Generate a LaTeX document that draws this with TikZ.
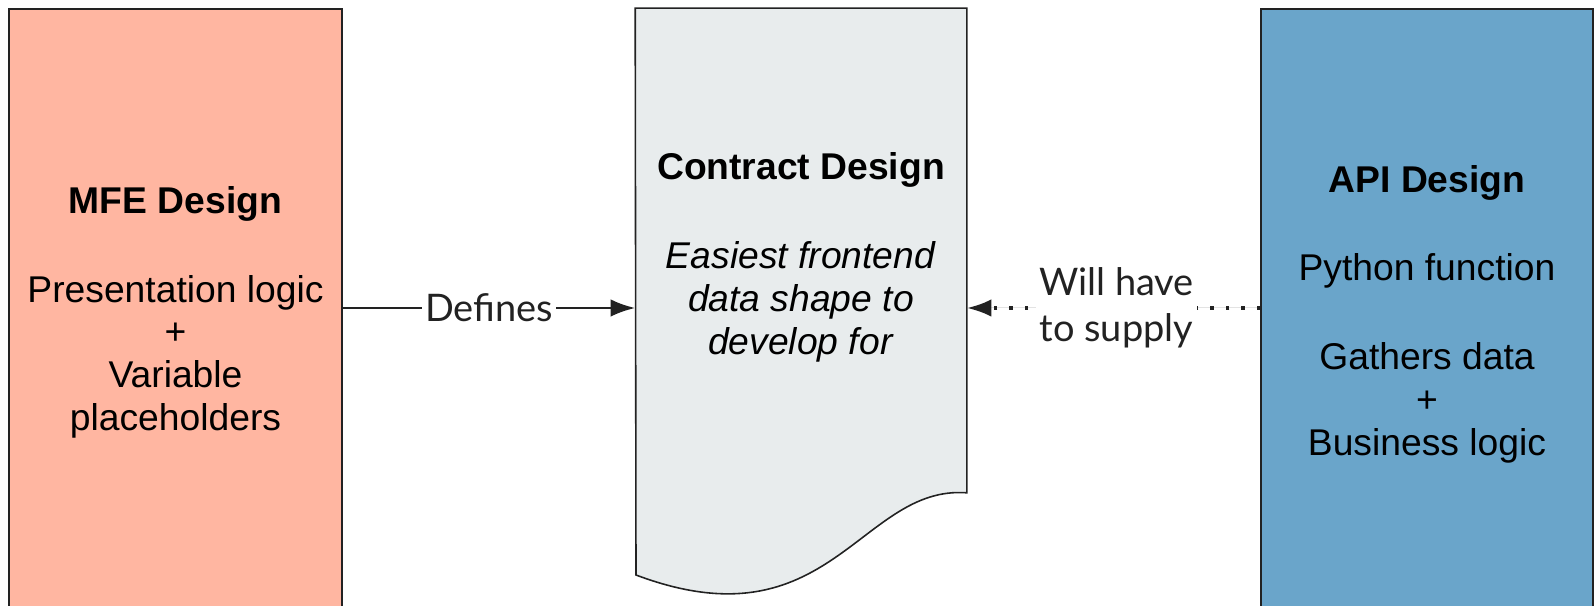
\documentclass[tikz,border=0pt]{standalone}
\usepackage{fontspec}
\setmainfont{Liberation Sans}
\newfontfamily\labelfont{Lato}
\usepackage{tikz}
\usetikzlibrary{positioning}
\usetikzlibrary{arrows.meta}
\definecolor{MFE-RED}{RGB}{255,182,161}
\definecolor{API-BLUE}{RGB}{106,165,202}
\definecolor{DOC-GREY}{RGB}{232,236,237}
\definecolor{EDGE}{RGB}{34,34,34}

\begin{document}
\begin{tikzpicture}[every path/.style={>={Latex[length=7pt,width=5pt]}},
	design/.style={draw=EDGE,line width=0.45pt,minimum width=3.32cm,align=center,inner sep=0pt,
		font=\fontsize{10.6}{12.2}\selectfont},
	link/.style={->,draw=EDGE,fill=EDGE,line width=0.7pt},
	linklabel/.style={fill=white,inner sep=1pt,align=center,text=EDGE,
		font=\labelfont\fontsize{10.8}{13}\selectfont}]
			\useasboundingbox (0,0) rectangle (15.95,6.06);
			\clip (0,0) rectangle (15.95,6.06);
		
			% draw the contract document
			\node (contract) at (8.01,3.555) [design,draw=none,minimum width=3.30cm,minimum height=4.83cm] {};
			\draw[draw=EDGE,line width=0.45pt,fill=DOC-GREY] (contract.south east) -- (contract.north east) -- (contract.north west)
				-- (6.36,0.31) .. controls (8.30,-0.42) and (8.60,1.21) .. (contract.south east) -- cycle;
			\node at ([yshift=-0.07cm]contract) [design,draw=none] {\textbf{Contract Design}\\[13pt]
				\textit{Easiest frontend}\\ \textit{data shape to}\\ \textit{develop for}};
		
			% draw the side boxes
			\node (mfe) at (1.755,2.965) [design,fill=MFE-RED,minimum width=3.33cm,minimum height=6.01cm] {};
			\node at ([yshift=-0.03cm]mfe) [design,draw=none]
				{\textbf{MFE Design}\\[13pt] Presentation logic\\ +\\ Variable\\ placeholders};
			\node (api) at (14.27,2.95) [design,fill=API-BLUE,minimum height=6.04cm] {};
			\node at ([yshift=-0.03cm]api) [design,draw=none]
				{\textbf{API Design}\\[13pt] Python function\\[13pt] Gathers data\\ +\\ Business logic};
		
			% draw arrows
			\draw[link] ([yshift=0.015cm]mfe.east) to node[linklabel] {Defines} ([yshift=0.015cm]mfe.east -| contract.west);
			\draw[link,line width=1pt,dash pattern=on 1pt off 3.4pt] ([yshift=0.03cm]api.west) to node[linklabel,pos=0.49] {Will have\\ to supply} ([yshift=0.03cm]api.west -| contract.east);
		\end{tikzpicture}
\end{document}
